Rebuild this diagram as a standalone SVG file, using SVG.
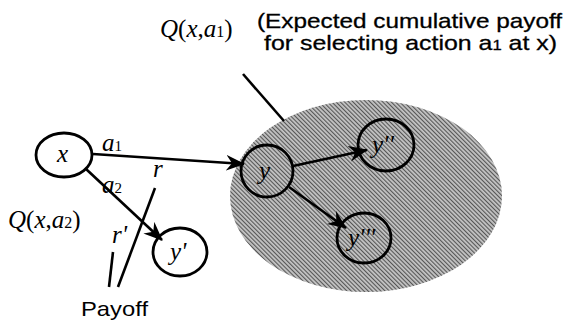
<svg xmlns="http://www.w3.org/2000/svg" width="566" height="326" viewBox="0 0 566 326">
<style>
.node{fill:none;stroke:#000;stroke-width:2.8}
.edge{stroke:#000;stroke-width:2.6;fill:none}
.m{font-family:"Liberation Serif",serif;font-size:25px;fill:#000}
.n{font-family:"Liberation Serif",serif;font-size:25px;fill:#000;font-style:italic}
.i{font-style:italic}
.s{font-family:"Liberation Sans",Arial,sans-serif;font-size:21px;fill:#000;stroke:#000;stroke-width:0.3}
.p{font-family:"Liberation Sans",Arial,sans-serif;font-size:21px;fill:#000}
</style>
<defs>
<pattern id="hatch" width="3" height="3" patternUnits="userSpaceOnUse" patternTransform="rotate(-45)">
<rect width="3" height="3" fill="#c4c4c4"/>
<line x1="0.6" y1="0" x2="0.6" y2="3" stroke="#4a4a4a" stroke-width="1"/>
</pattern>
<marker id="arr" markerWidth="20" markerHeight="16" refX="18" refY="8" orient="auto" markerUnits="userSpaceOnUse">
<path d="M0,0 L19,8 L0,16 L6,8 z" fill="#000"/>
</marker>
</defs>
<rect width="566" height="326" fill="#fff"/>
<ellipse id="region" cx="366" cy="196" rx="136" ry="96" fill="url(#hatch)"/>
<g id="connectors">
<line class="edge" x1="93" y1="154" x2="244" y2="164" marker-end="url(#arr)"/>
<line class="edge" x1="86" y1="169" x2="162" y2="240" marker-end="url(#arr)"/>
<line class="edge" x1="293" y1="166" x2="367" y2="150" marker-end="url(#arr)"/>
<line class="edge" x1="289" y1="187" x2="346" y2="228" marker-end="url(#arr)"/>
<line class="edge" x1="243" y1="74" x2="284" y2="121"/>
<line class="edge" x1="118" y1="287" x2="155" y2="188" stroke-width="2"/>
<line class="edge" x1="109" y1="287" x2="113" y2="252" stroke-width="2"/>
</g>
<g id="node-x"><ellipse class="node" cx="64" cy="155" rx="28" ry="22"/><text class="n" x="57" y="162">x</text></g>
<g id="node-y1"><ellipse class="node" cx="180" cy="252" rx="27" ry="24"/><text class="n" x="170" y="260">y'</text></g>
<g id="node-y"><ellipse class="node" cx="267" cy="171" rx="26" ry="26"/><text class="n" x="259" y="179">y</text></g>
<g id="node-y2"><ellipse class="node" cx="386" cy="145" rx="28" ry="26"/><text class="n" x="372" y="153">y''</text></g>
<g id="node-y3"><ellipse class="node" cx="364" cy="238" rx="27" ry="25"/><text class="n" x="348" y="246">y'''</text></g>
<g id="labels">
<text class="m" x="102" y="151"><tspan class="i">a</tspan><tspan font-size="15">1</tspan></text>
<text class="m" x="102" y="193"><tspan class="i">a</tspan><tspan font-size="15">2</tspan></text>
<text class="m i" x="153" y="177">r</text>
<text class="m i" x="112" y="243">r'</text>
<text class="m" x="160" y="37"><tspan class="i">Q</tspan>(<tspan class="i">x</tspan>,<tspan class="i">a</tspan><tspan font-size="16">1</tspan>)</text>
<text class="m" x="8" y="228"><tspan class="i">Q</tspan>(<tspan class="i">x</tspan>,<tspan class="i">a</tspan><tspan font-size="16">2</tspan>)</text>
<text class="s" x="257" y="28" textLength="305" lengthAdjust="spacingAndGlyphs">(Expected cumulative payoff</text>
<text class="s" x="264" y="50" textLength="293" lengthAdjust="spacingAndGlyphs">for selecting action a<tspan font-size="14">1</tspan> at x)</text>
<text class="p" x="81" y="316" textLength="67" lengthAdjust="spacingAndGlyphs">Payoff</text>
</g>
</svg>
